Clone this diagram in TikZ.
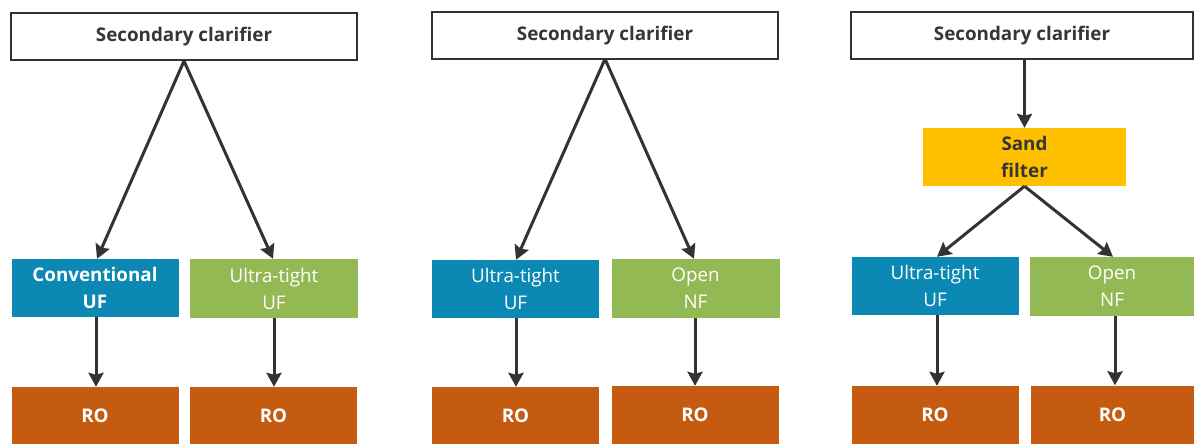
\documentclass[tikz,border=0pt]{standalone}
\usepackage{fontspec}
\setmainfont{Open Sans}
\usetikzlibrary{arrows.meta}
\definecolor{ufblue}{HTML}{0B88B4}
\definecolor{ufgreen}{HTML}{93B955}
\definecolor{roorange}{HTML}{C55A11}
\definecolor{sandyellow}{HTML}{FFC000}
\definecolor{txtdark}{HTML}{363636}
\definecolor{arrowgray}{HTML}{333333}
\begin{document}
\begin{tikzpicture}[x=1pt,y=-1pt,
  lblfont/.style={font=\fontsize{18.8}{27}\selectfont},
  boldfont/.style={font=\fontsize{18.8}{27}\selectfont\bfseries},
  box/.style={inner sep=0pt, align=center, lblfont},
  topbox/.style={box, draw=arrowgray, line width=2pt, fill=white, minimum width=346pt, minimum height=47pt, text=txtdark, boldfont},
  bluebox/.style={box, fill=ufblue, text=white, minimum width=167pt, minimum height=58pt},
  greenbox/.style={box, fill=ufgreen, text=white, minimum width=168pt, minimum height=59pt},
  robox/.style={box, fill=roorange, text=white, minimum width=167pt, minimum height=58pt, boldfont},
  sandbox/.style={box, fill=sandyellow, text=txtdark, minimum width=203pt, minimum height=58pt, boldfont},
  flow/.style={draw=arrowgray, line width=3pt, -{Stealth[length=14pt,width=15pt,inset=2pt]}}
]
\useasboundingbox (0,0) rectangle (1194,444);
% Panel 1
\node[topbox] (sc1) at (184,37) {Secondary clarifier};
\node[bluebox, boldfont] (cuf) at (95,288) {Conventional\\UF};
\node[greenbox] (ut1) at (274,288.5) {Ultra-tight\\UF};
\node[robox] (ro1) at (95,416) {RO};
\node[robox] (ro2) at (273.5,416) {RO};
\coordinate (c1) at (184,61);
\draw[flow] (c1) -- (cuf.north -| 97,0);
\draw[flow] (c1) -- (ut1.north -| 273,0);
\draw[flow] (cuf.south -| 96,0) -- (ro1.north -| 96,0);
\draw[flow] (ut1.south -| 274,0) -- (ro2.north -| 274,0);
% Panel 2
\node[topbox] (sc2) at (605,36) {Secondary clarifier};
\node[bluebox] (ut2) at (515.5,289) {Ultra-tight\\UF};
\node[greenbox] (nf2) at (695.5,288.5) {Open\\NF};
\node[robox] (ro3) at (515.5,416) {RO};
\node[robox] (ro4) at (695,415) {RO};
\coordinate (c2) at (605,59);
\draw[flow] (c2) -- (ut2.north -| 516,0);
\draw[flow] (c2) -- (nf2.north -| 694,0);
\draw[flow] (ut2.south -| 516,0) -- (ro3.north -| 516,0);
\draw[flow] (nf2.south -| 695,0) -- (ro4.north -| 695,0);
% Panel 3
\node[topbox, minimum width=342pt] (sc3) at (1022,36) {Secondary clarifier};
\node[sandbox] (sf) at (1024.5,157) {Sand\\filter};
\node[bluebox] (ut3) at (935,286) {Ultra-tight\\UF};
\node[greenbox, minimum width=164pt] (nf3) at (1112,286.5) {Open\\NF};
\node[robox] (ro5) at (935,415) {RO};
\node[robox, minimum width=163pt] (ro6) at (1112.5,414.5) {RO};
\draw[flow] (sc3.south -| sf.north) -- (sf.north);
\draw[flow] (sf.south) -- (ut3.north -| 937,0);
\draw[flow] (sf.south) -- (nf3.north -| 1113,0);
\draw[flow] (ut3.south -| 937,0) -- (ro5.north -| 937,0);
\draw[flow] (nf3.south -| 1115,0) -- (ro6.north -| 1115,0);
\end{tikzpicture}
\end{document}
